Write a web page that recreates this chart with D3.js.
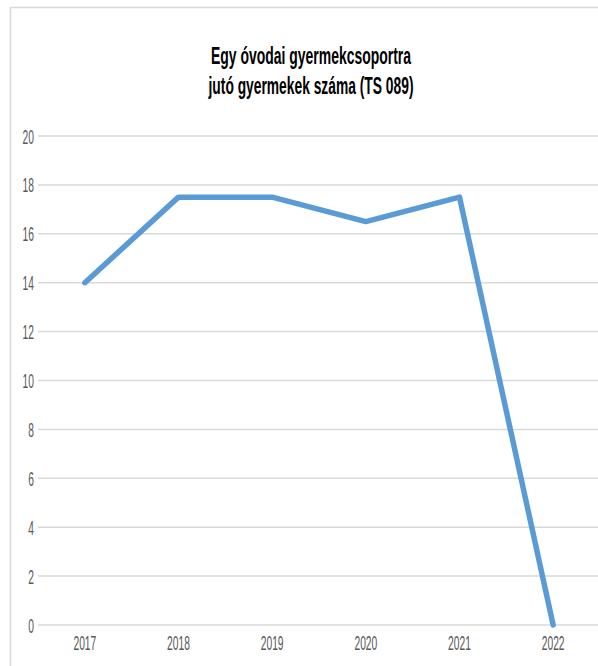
<!DOCTYPE html>
<html><head><meta charset="utf-8">
<script src="https://cdn.jsdelivr.net/npm/d3@7"></script>
<style>body{margin:0;background:#fff}svg{display:block}</style>
</head><body>
<script>
const years = ["2017","2018","2019","2020","2021","2022"];
const values = [14, 17.5, 17.5, 16.5, 17.5, 0];
const yTicks = [0,2,4,6,8,10,12,14,16,18,20];
const titleLines = ["Egy óvodai gyermekcsoportra","jutó gyermekek száma (TS 089)"];
const titleWidths = [200, 205];

const W = 598, H = 666;
const svg = d3.select("body").append("svg").attr("width", W).attr("height", H);
const font = "'Liberation Sans',Arial,sans-serif";

// outer frame
svg.append("path").attr("d", `M10.5,${H} V7.5 H${W}`).attr("fill","none").attr("stroke","#d9d9d9").attr("stroke-width",1.5);

const x = d3.scaleBand().domain(years).range([38, 600]);
const y = d3.scaleLinear().domain([0,20]).range([625, 136]);

// gridlines
svg.append("g").selectAll("line").data(yTicks).join("line")
  .attr("x1", 38).attr("x2", 600)
  .attr("y1", d=>y(d)).attr("y2", d=>y(d))
  .attr("stroke","#d9d9d9").attr("stroke-width",1.5);

function styleLabels(sel){
  sel.selectAll("text")
    .attr("font-family", font).attr("font-size", 20).attr("fill","#595959")
    .attr("textLength", function(){ return this.textContent.length * 5.7; })
    .attr("lengthAdjust","spacingAndGlyphs");
}

// y axis
const ya = svg.append("g").attr("transform","translate(38,0)")
  .call(d3.axisLeft(y).tickValues(yTicks).tickSize(0).tickPadding(4));
ya.select(".domain").remove();
styleLabels(ya);
ya.selectAll("text").attr("dy","0.35em");

// x axis
const xa = svg.append("g").attr("transform","translate(0,625)")
  .call(d3.axisBottom(x).tickSize(0).tickPadding(0));
xa.select(".domain").remove();
styleLabels(xa);
xa.selectAll("text").attr("dy", null).attr("y", 25);

// line
const line = d3.line().x((d,i)=>x(years[i]) + x.bandwidth()/2).y(d=>y(d));
svg.append("path").datum(values).attr("d", line)
  .attr("fill","none").attr("stroke","#5b9bd5").attr("stroke-width",5.5)
  .attr("stroke-linejoin","round").attr("stroke-linecap","round");

// title
svg.append("g").selectAll("text").data(titleLines).join("text")
  .attr("x", 311).attr("y", (d,i)=>64 + i*30)
  .attr("text-anchor","middle")
  .attr("font-family", font).attr("font-weight","bold").attr("font-size", 24)
  .attr("textLength", (d,i)=>titleWidths[i]).attr("lengthAdjust","spacingAndGlyphs")
  .attr("fill","#000").text(d=>d);
</script>
</body></html>
